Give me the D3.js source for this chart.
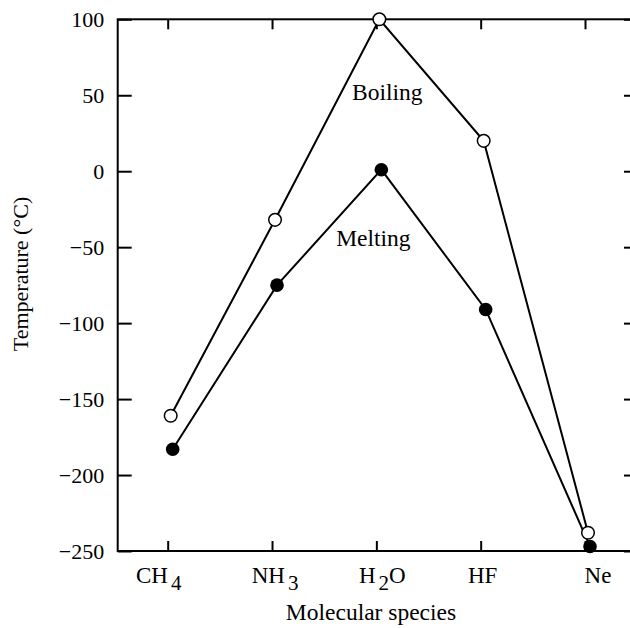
<!DOCTYPE html>
<html lang="en">
<head>
<meta charset="UTF-8">
<title>Melting and boiling points</title>
<script src="https://cdnjs.cloudflare.com/ajax/libs/d3/7.8.4/d3.min.js"></script>
<style>
  body { margin: 0; background: #fff; }
</style>
</head>
<body>
<div id="chart"></div>
<script>
  // data
  const species = [
    { main: "CH", sub: "4", tail: "" },
    { main: "NH", sub: "3", tail: "" },
    { main: "H", sub: "2", tail: "O" },
    { main: "HF", sub: "", tail: "" },
    { main: "Ne", sub: "", tail: "" }
  ];
  const boiling = [-161, -32, 100, 20, -238];
  const melting = [-183, -75, 1, -91, -247];
  const yTicks = [100, 50, 0, -50, -100, -150, -200, -250];

  const font = "'Liberation Serif', 'Times New Roman', Times, serif";
  const w = 630, h = 628;
  const padL = 117.7, padR = 638, padT = 19.3, padB = 551;

  const x = d3.scaleLinear().domain([0, 4]).range([167.7, 585]);
  const y = d3.scaleLinear().domain([-250, 100]).range([padB, padT]);

  const svg = d3.select("#chart").append("svg")
    .attr("width", w)
    .attr("height", h)
    .attr("font-family", font);

  // frame axes
  svg.append("g")
    .attr("transform", "translate(" + padL + ",0)")
    .call(d3.axisLeft(y).tickValues(yTicks).tickSizeInner(-14).tickSizeOuter(0).tickPadding(13.5))
    .attr("font-family", font)
    .attr("font-size", 22)
    .call(g => g.selectAll("text").attr("fill", "#000"));

  svg.append("g")
    .attr("transform", "translate(" + padR + ",0)")
    .call(d3.axisRight(y).tickValues(yTicks).tickSizeInner(-14).tickSizeOuter(0).tickFormat(""));

  svg.append("g")
    .attr("transform", "translate(0," + padB + ")")
    .call(d3.axisBottom(x).tickValues(d3.range(species.length)).tickSizeInner(-10).tickSizeOuter(0).tickFormat(""));

  svg.append("g")
    .attr("transform", "translate(0," + padT + ")")
    .call(d3.axisTop(x).tickValues(d3.range(species.length)).tickSizeInner(-10).tickSizeOuter(0).tickFormat(""));

  svg.selectAll(".domain").remove();
  svg.selectAll(".tick line").attr("stroke", "#000").attr("stroke-width", 2);

  svg.append("rect")
    .attr("x", padL).attr("y", padT)
    .attr("width", padR - padL).attr("height", padB - padT)
    .attr("fill", "none").attr("stroke", "#000").attr("stroke-width", 2);

  // category labels with subscripts
  const labelDx = [-9, 3, 6, 2, 13];
  const lab = svg.append("g").selectAll("text")
    .data(species)
    .enter()
    .append("text")
    .attr("x", (d, i) => x(i) + labelDx[i])
    .attr("y", 583)
    .attr("text-anchor", "middle")
    .attr("font-size", 23);
  lab.append("tspan").text(d => d.main);
  lab.filter(d => d.sub).append("tspan")
    .attr("dx", 3).attr("dy", 7)
    .attr("font-size", 21)
    .text(d => d.sub);
  lab.filter(d => d.tail).append("tspan")
    .attr("dy", -7)
    .text(d => d.tail);

  // lines
  const line = (dx) => d3.line().x((d, i) => x(i) + dx).y(d => y(d));
  svg.append("path").datum(boiling)
    .attr("d", line(3))
    .attr("fill", "none").attr("stroke", "#000").attr("stroke-width", 2);
  svg.append("path").datum(melting)
    .attr("d", line(5))
    .attr("fill", "none").attr("stroke", "#000").attr("stroke-width", 2);

  svg.selectAll(".boil")
    .data(boiling)
    .enter()
    .append("circle")
    .attr("class", "boil")
    .attr("cx", (d, i) => x(i) + 3)
    .attr("cy", d => y(d))
    .attr("r", 6.3)
    .attr("fill", "#fff").attr("stroke", "#000").attr("stroke-width", 1.5);

  svg.selectAll(".melt")
    .data(melting)
    .enter()
    .append("circle")
    .attr("class", "melt")
    .attr("cx", (d, i) => x(i) + 5)
    .attr("cy", d => y(d))
    .attr("r", 6.8)
    .attr("fill", "#000");

  // series labels
  svg.append("text")
    .attr("x", x(2) + 11).attr("y", y(47))
    .attr("text-anchor", "middle")
    .attr("font-size", 23.5)
    .text("Boiling");
  svg.append("text")
    .attr("x", x(2) - 3).attr("y", y(-49.5))
    .attr("text-anchor", "middle")
    .attr("font-size", 23.5)
    .text("Melting");

  // axis titles
  svg.append("text")
    .attr("x", 371).attr("y", 620)
    .attr("text-anchor", "middle")
    .attr("font-size", 23.5)
    .text("Molecular species");
  svg.append("text")
    .attr("transform", "translate(28,274) rotate(-90)")
    .attr("text-anchor", "middle")
    .attr("font-size", 22)
    .text("Temperature (°C)");
</script>
</body>
</html>
